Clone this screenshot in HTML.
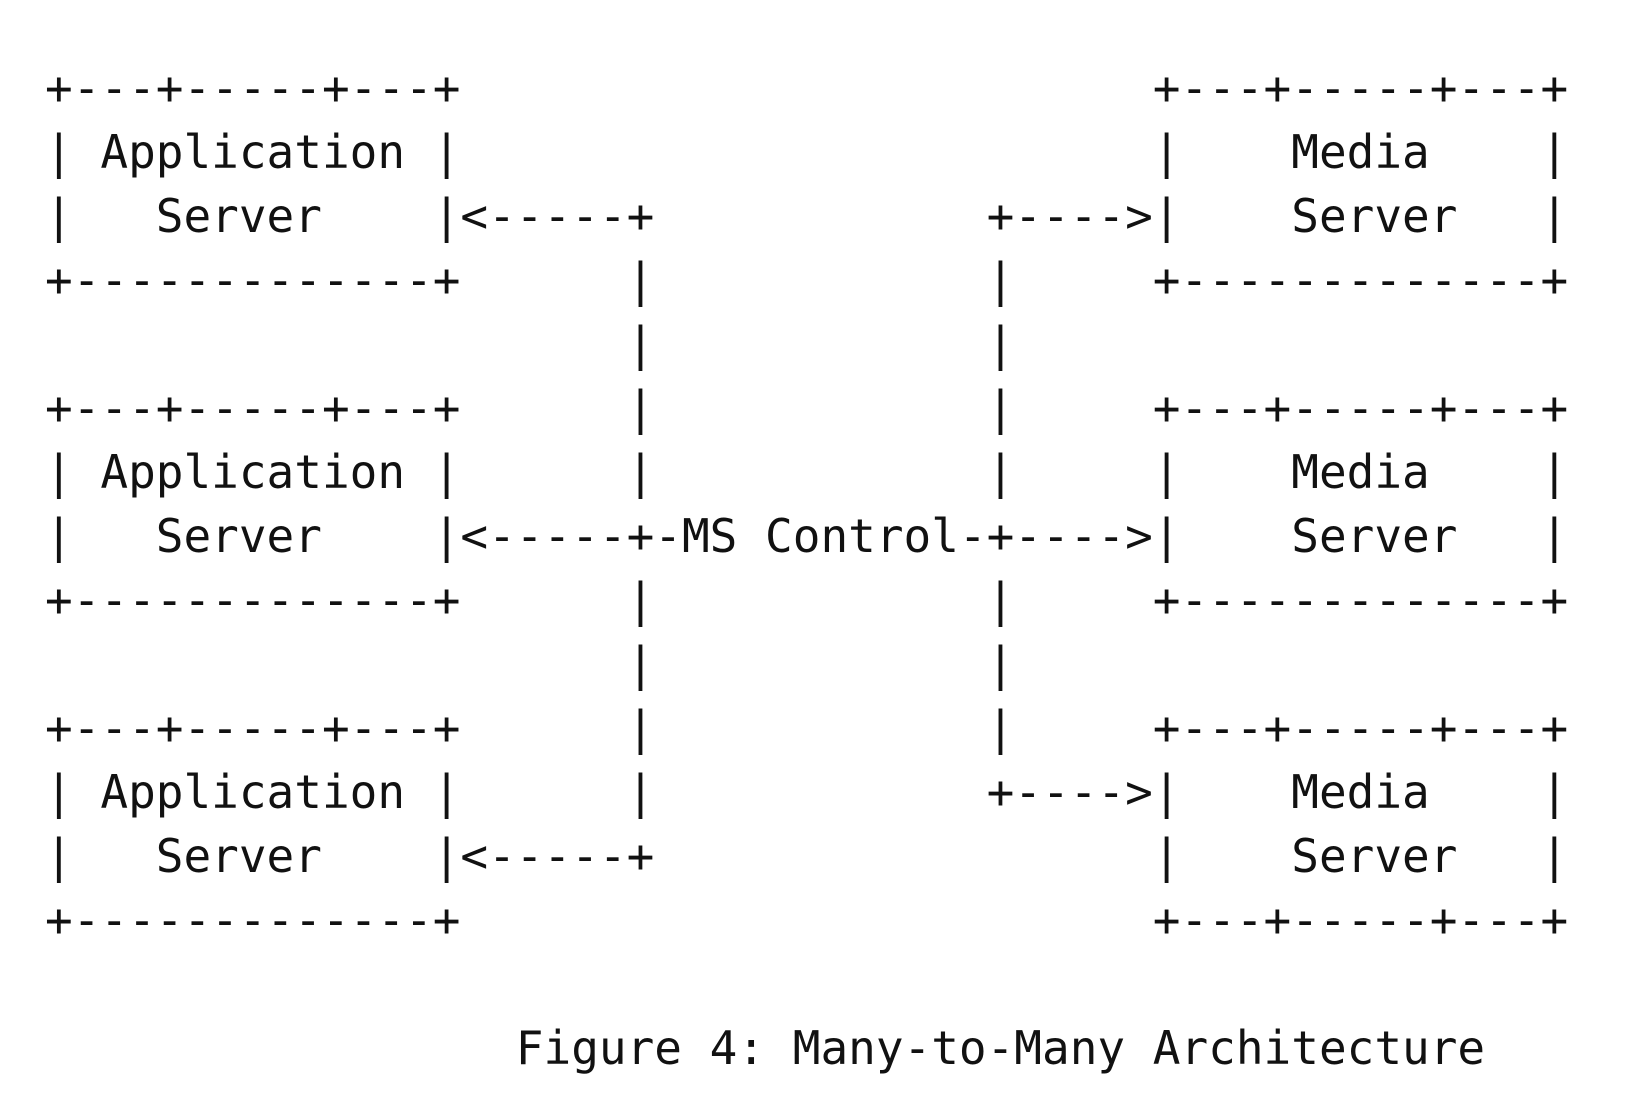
<!DOCTYPE html>
<html>
<head>
<meta charset="utf-8">
<style>
html,body{margin:0;padding:0;background:#fff;}
body{width:1646px;height:1106px;overflow:hidden;position:relative;}
pre{position:absolute;left:45px;top:56px;margin:0;
font-family:"DejaVu Sans Mono","Liberation Mono",monospace;
font-size:46px;line-height:64px;color:#111;letter-spacing:0;}
</style>
</head>
<body>
<pre>+---+-----+---+                         +---+-----+---+
| Application |                         |    Media    |
|   Server    |&lt;-----+            +----&gt;|    Server   |
+-------------+      |            |     +-------------+
                     |            |
+---+-----+---+      |            |     +---+-----+---+
| Application |      |            |     |    Media    |
|   Server    |&lt;-----+-MS Control-+----&gt;|    Server   |
+-------------+      |            |     +-------------+
                     |            |
+---+-----+---+      |            |     +---+-----+---+
| Application |      |            +----&gt;|    Media    |
|   Server    |&lt;-----+                  |    Server   |
+-------------+                         +---+-----+---+

                 Figure 4: Many-to-Many Architecture</pre>
</body>
</html>
